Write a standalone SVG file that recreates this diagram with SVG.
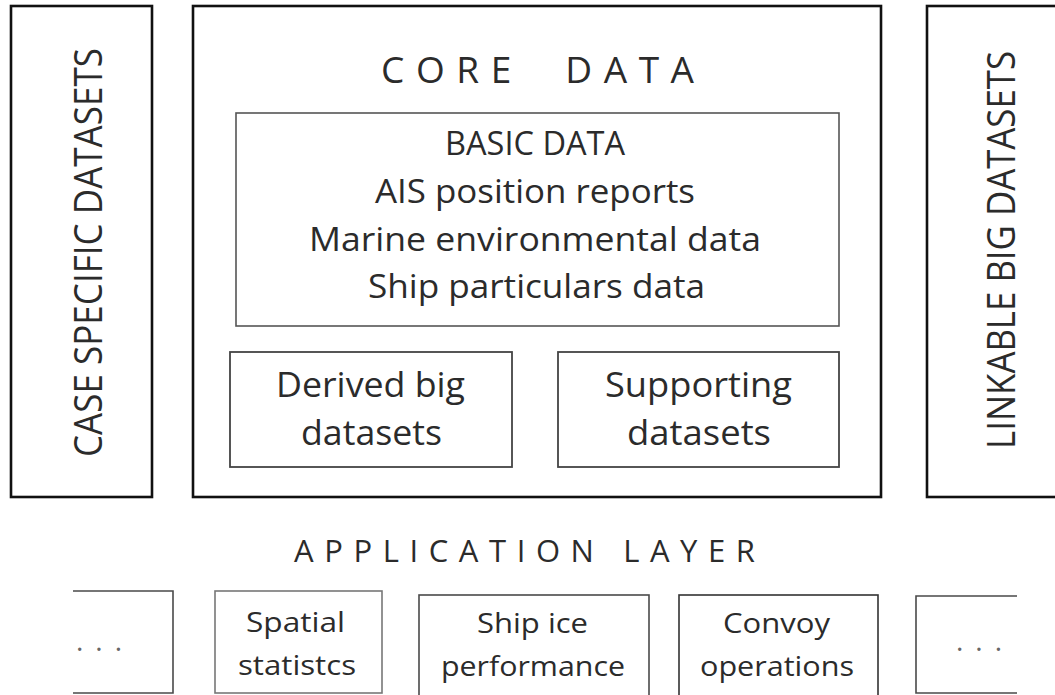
<svg xmlns="http://www.w3.org/2000/svg" width="1055" height="695" viewBox="0 0 1055 695">
<style>
  .outer { fill: #ffffff; stroke: #111111; stroke-width: 2.6; }
  .inner { fill: none; stroke: #555555; stroke-width: 1.6; }
  .sub { fill: none; stroke: #444444; stroke-width: 1.8; }
  .app { fill: none; stroke: #4a4a4a; stroke-width: 1.6; }
  .t { font-family: "Open Sans", "Liberation Sans", sans-serif; fill: #2b2b2b; }
  .side { font-size: 38px; }
  .head { font-size: 37px; }
  .basic { font-size: 33px; }
  .subt { font-size: 35px; }
  .layer { font-size: 31px; }
  .appt { font-size: 28px; }
  .dots { font-size: 28px; fill: #666666; letter-spacing: 12px; }
</style>
<rect x="0" y="0" width="1055" height="695" fill="#ffffff"/>
<g id="connectors"></g>

<g id="case-specific-datasets">
  <rect class="outer" x="11" y="6" width="141" height="491"/>
  <text class="t side" transform="translate(102,457) rotate(-90)" x="0" y="0" textLength="409" lengthAdjust="spacingAndGlyphs">CASE SPECIFIC DATASETS</text>
</g>

<g id="core-data">
  <rect class="outer" x="193" y="6" width="688" height="491"/>
  <text class="t head" x="381" y="83" xml:space="preserve" style="white-space:pre" textLength="313" lengthAdjust="spacing">CORE  DATA</text>
</g>

<g id="basic-data">
  <rect class="inner" x="236" y="113" width="603" height="213"/>
  <text class="t basic" x="445" y="155" textLength="180" lengthAdjust="spacingAndGlyphs">BASIC DATA</text>
  <text class="t basic" x="375" y="203" textLength="320" lengthAdjust="spacingAndGlyphs">AIS position reports</text>
  <text class="t basic" x="309" y="250.5" textLength="452" lengthAdjust="spacingAndGlyphs">Marine environmental data</text>
  <text class="t basic" x="368" y="298" textLength="337" lengthAdjust="spacingAndGlyphs">Ship particulars data</text>
</g>

<g id="derived-big-datasets">
  <rect class="sub" x="230" y="352" width="282" height="115"/>
  <text class="t subt" x="276" y="397" textLength="189" lengthAdjust="spacingAndGlyphs">Derived big</text>
  <text class="t subt" x="301" y="445" textLength="141" lengthAdjust="spacingAndGlyphs">datasets</text>
</g>

<g id="supporting-datasets">
  <rect class="sub" x="558" y="352" width="281" height="115"/>
  <text class="t subt" x="605" y="397" textLength="187" lengthAdjust="spacingAndGlyphs">Supporting</text>
  <text class="t subt" x="627" y="445" textLength="144" lengthAdjust="spacingAndGlyphs">datasets</text>
</g>

<g id="linkable-big-datasets">
  <rect class="outer" x="927" y="6" width="140" height="491"/>
  <text class="t side" transform="translate(1015,449) rotate(-90)" x="0" y="0" textLength="398" lengthAdjust="spacingAndGlyphs">LINKABLE BIG DATASETS</text>
</g>

<g id="application-layer">
  <text class="t layer" x="294" y="562" textLength="461" lengthAdjust="spacing">APPLICATION LAYER</text>
</g>

<g id="app-more-left">
  <path class="app" d="M73,591 H173 V693 H73"/>
  <text class="t dots" x="76" y="651">...</text>
</g>

<g id="spatial-statistics">
  <rect class="app" x="215" y="591" width="167" height="102" style="stroke:#777777"/>
  <text class="t appt" x="246" y="632" textLength="99" lengthAdjust="spacingAndGlyphs">Spatial</text>
  <text class="t appt" x="238" y="675" textLength="118" lengthAdjust="spacingAndGlyphs">statistcs</text>
</g>

<g id="ship-ice-performance">
  <rect class="app" x="419" y="595" width="230" height="106"/>
  <text class="t appt" x="477" y="633" textLength="111" lengthAdjust="spacingAndGlyphs">Ship ice</text>
  <text class="t appt" x="441" y="676" textLength="184" lengthAdjust="spacingAndGlyphs">performance</text>
</g>

<g id="convoy-operations">
  <rect class="app" x="679" y="595" width="199" height="106" style="stroke:#333333"/>
  <text class="t appt" x="723" y="633" textLength="107" lengthAdjust="spacingAndGlyphs">Convoy</text>
  <text class="t appt" x="700" y="676" textLength="154" lengthAdjust="spacingAndGlyphs">operations</text>
</g>

<g id="app-more-right">
  <path class="app" d="M1017,596 H916 V693 H1017"/>
  <text class="t dots" x="956" y="651">...</text>
</g>
</svg>
